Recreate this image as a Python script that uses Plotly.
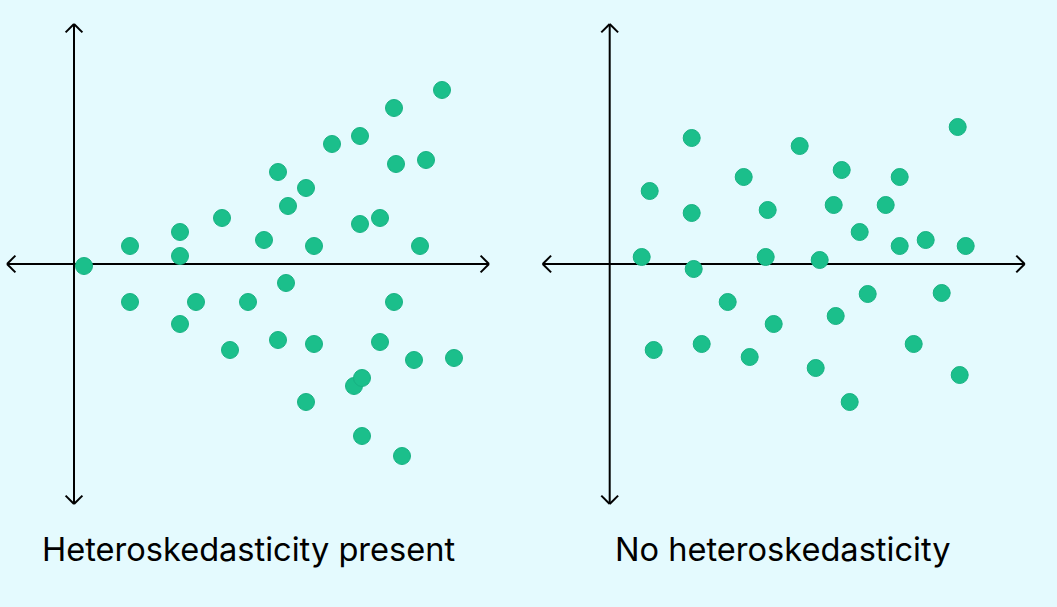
import plotly.graph_objects as go

# Left panel: heteroskedasticity present (units: arbitrary, origin at axes crossing)
het_x = [0.5, 2.8, 2.8, 5.3, 5.3, 5.3, 6.1, 7.4, 7.8, 8.7, 9.5, 10.2, 10.2, 10.6, 10.7,
         11.6, 11.6, 12.0, 12.0, 12.9, 14.0, 14.3, 14.3, 14.4, 14.4, 15.3, 15.3, 16.0,
         16.0, 16.1, 16.4, 17.0, 17.3, 17.6, 18.4, 19.0]
het_y = [-0.1, 0.9, -1.9, 1.6, 0.4, -3.0, -1.9, 2.3, -4.3, -1.9, 1.2, 4.6, -3.8, -0.95, 2.9,
         3.8, -6.9, 0.9, -4.0, 6.0, -6.1, 6.4, 2.0, -5.7, -8.6, 2.3, -3.9, 7.8,
         -1.9, 5.0, -9.6, -4.8, 0.9, 5.2, 8.7, -4.7]

# Right panel: no heteroskedasticity
hom_x = [1.6, 2.0, 2.2, 4.1, 4.1, 4.2, 4.6, 5.9, 6.7, 7.0, 7.8, 7.9, 8.2, 9.5, 10.3,
         10.5, 11.2, 11.3, 11.6, 12.0, 12.5, 12.9, 13.8, 14.5, 14.5, 15.2, 15.8, 16.6,
         17.4, 17.5, 17.8]
hom_y = [0.35, 3.65, -4.3, 6.3, 2.55, -0.25, -4.0, -1.9, 4.35, -4.65, 0.35, 2.7, -3.0,
         5.9, -5.2, 0.2, 2.95, -2.6, 4.7, -6.9, 1.6, -1.5, 2.95, 4.35, 0.9, -4.0, 1.2,
         -1.45, 6.85, -5.55, 0.9]

titles = ["Heteroskedasticity present", "No heteroskedasticity"]

BG = "#E4FAFE"
DOT = "#1BBF8B"
EDGE = "#18B283"

fig = go.Figure()

fig.add_trace(go.Scatter(x=het_x, y=het_y, mode="markers", xaxis="x", yaxis="y",
                         marker=dict(size=17, color=DOT, line=dict(color=EDGE, width=1)),
                         showlegend=False, hoverinfo="skip"))
fig.add_trace(go.Scatter(x=hom_x, y=hom_y, mode="markers", xaxis="x2", yaxis="y2",
                         marker=dict(size=17, color=DOT, line=dict(color=EDGE, width=1)),
                         showlegend=False, hoverinfo="skip"))

# axis arrows (decoration)
L = dict(color="black", width=2)
xl, xr, yt, yb, a = -3.35, 20.75, 12.0, -12.0, 0.42
for xref, yref in [("x", "y"), ("x2", "y2")]:
    segs = [
        (xl, 0, xr, 0), (0, yb, 0, yt),
        (xr, 0, xr - a, a), (xr, 0, xr - a, -a),
        (xl, 0, xl + a, a), (xl, 0, xl + a, -a),
        (0, yt, -a, yt - a), (0, yt, a, yt - a),
        (0, yb, -a, yb + a), (0, yb, a, yb + a),
    ]
    for x0, y0, x1, y1 in segs:
        fig.add_shape(type="line", x0=x0, y0=y0, x1=x1, y1=y1, xref=xref, yref=yref,
                      line=L, layer="below")

fig.add_annotation(x=8.72, y=-14.25, xref="x", yref="y", text=titles[0], showarrow=False,
                   font=dict(family="Inter", size=32.6, color="black"))
fig.add_annotation(x=8.64, y=-14.25, xref="x2", yref="y2", text=titles[1], showarrow=False,
                   font=dict(family="Inter", size=32.6, color="black"))

ax = dict(visible=False, fixedrange=True)
fig.update_layout(
    width=1057, height=607,
    margin=dict(l=0, r=0, t=0, b=0),
    paper_bgcolor=BG, plot_bgcolor=BG,
    xaxis=dict(domain=[0, 0.5], range=[-3.7, 22.725], **ax),
    yaxis=dict(domain=[0, 1], range=[-17.15, 13.2], **ax),
    xaxis2=dict(domain=[0.5, 1], range=[-4.06, 22.365], **ax),
    yaxis2=dict(domain=[0, 1], range=[-17.15, 13.2], anchor="x2", **ax),
)

fig.write_html("out.html")
